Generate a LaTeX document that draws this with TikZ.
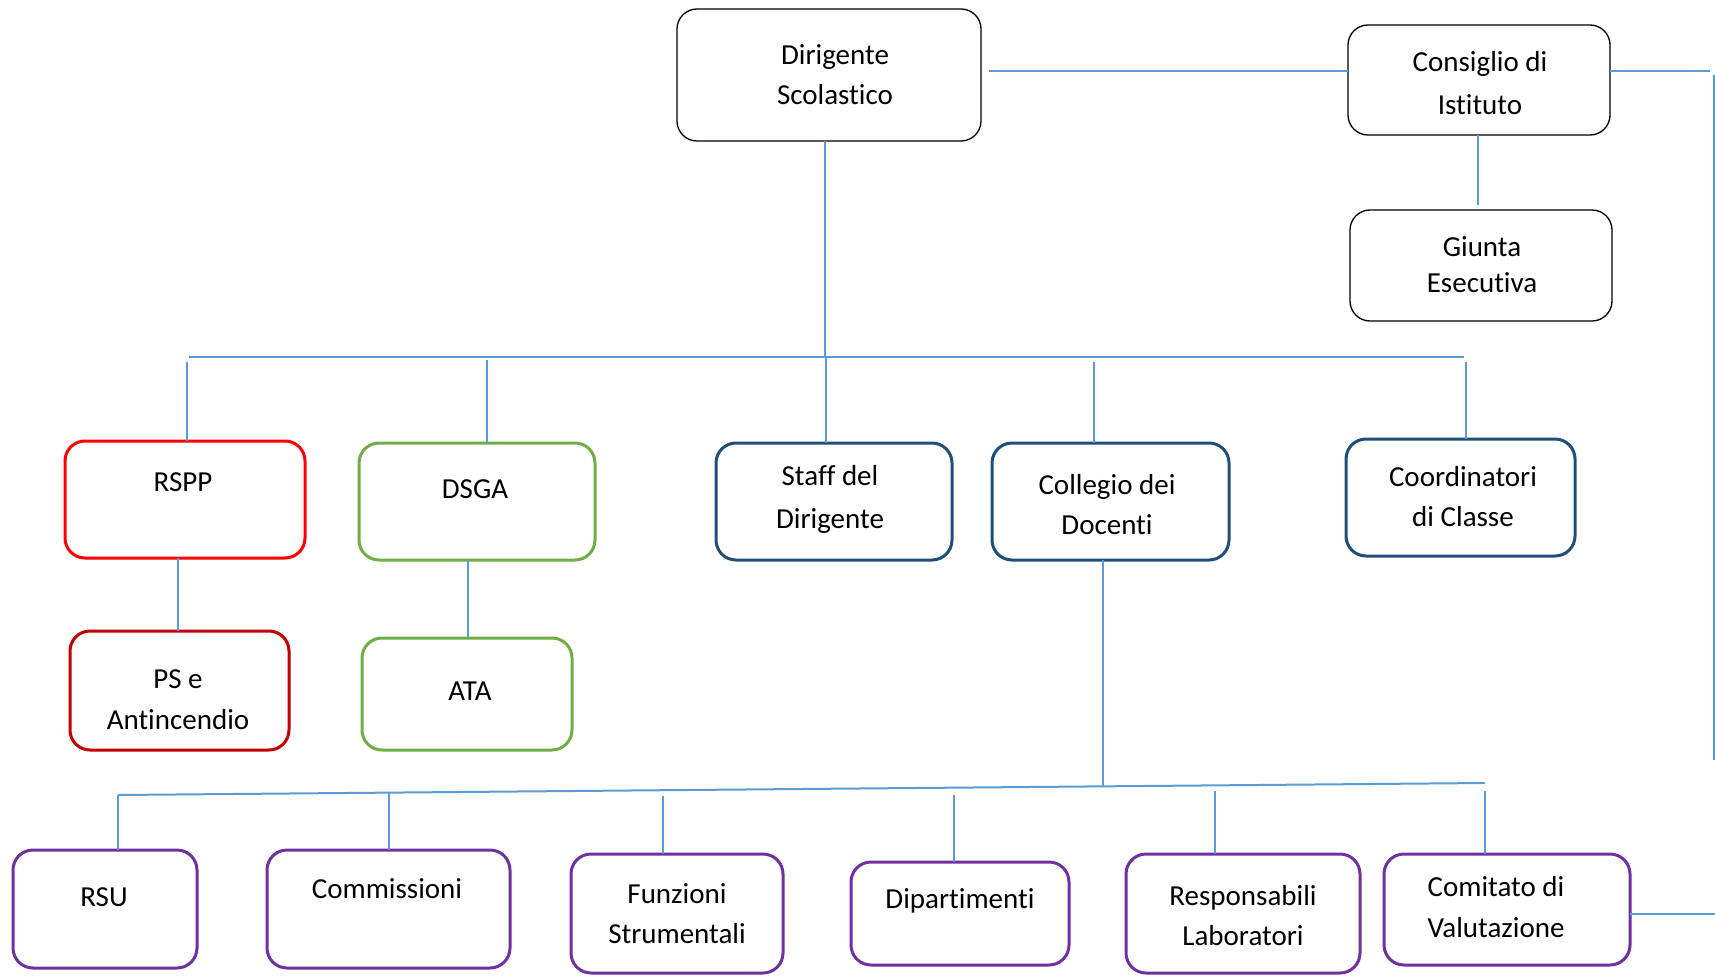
\documentclass[tikz,border=0pt]{standalone}
\usepackage{fontspec}
\setmainfont{Carlito}[Ligatures={NoCommon,NoRequired,NoContextual}]
\definecolor{conncol}{HTML}{5B9BD5}
\definecolor{redA}{HTML}{FF0000}
\definecolor{redB}{HTML}{C00000}
\definecolor{greenA}{HTML}{70AD47}
\definecolor{navyA}{HTML}{1F4E79}
\definecolor{purpA}{HTML}{7030A0}
\tikzset{
  every picture/.style={x=1pt,y=-1pt},
  box/.style={draw,rounded corners=20pt,inner sep=0pt,outer sep=0pt},
  blackbox/.style={box,draw=black,line width=1.3pt},
  redbox/.style={box,draw=redA,line width=3pt},
  darkredbox/.style={box,draw=redB,line width=3pt},
  greenbox/.style={box,draw=greenA,line width=3pt},
  navybox/.style={box,draw=navyA,line width=3pt},
  purpbox/.style={box,draw=purpA,line width=3pt},
  lbl/.style={font=\fontsize{29}{41}\selectfont,align=center,inner sep=0pt},
  conn/.style={draw=conncol,line width=2pt}
}
\begin{document}
\begin{tikzpicture}
\useasboundingbox (0,0) rectangle (1715,976);
% boxes
\node[blackbox,minimum width=304pt,minimum height=132pt] (Dir) at (829,75) {};
\node[blackbox,minimum width=262pt,minimum height=110pt] (Cons) at (1479,80) {};
\node[blackbox,minimum width=262pt,minimum height=111pt] (Giu) at (1481,265.5) {};
\node[redbox,minimum width=240pt,minimum height=117pt] (RSPP) at (185,499.5) {};
\node[greenbox,minimum width=236pt,minimum height=117pt] (DSGA) at (477,501.5) {};
\node[navybox,minimum width=236pt,minimum height=117pt] (Staff) at (834,501.5) {};
\node[navybox,minimum width=237pt,minimum height=117pt] (Coll) at (1110.5,501.5) {};
\node[navybox,minimum width=229pt,minimum height=117pt] (Coord) at (1460.5,497.5) {};
\node[darkredbox,minimum width=219pt,minimum height=119pt] (PS) at (179.5,690.5) {};
\node[greenbox,minimum width=210pt,minimum height=112pt] (ATA) at (467,694) {};
\node[purpbox,minimum width=184pt,minimum height=118pt] (RSU) at (105,909) {};
\node[purpbox,minimum width=243pt,minimum height=118pt] (Comm) at (388.5,909) {};
\node[purpbox,minimum width=212pt,minimum height=119pt] (Funz) at (677,913.5) {};
\node[purpbox,minimum width=218pt,minimum height=103pt] (Dip) at (960,913.5) {};
\node[purpbox,minimum width=234pt,minimum height=119pt] (Resp) at (1243,913.5) {};
\node[purpbox,minimum width=246pt,minimum height=111pt] (Comi) at (1507,909.5) {};
% labels
\node[lbl,font=\fontsize{29}{40}\selectfont] (tDir) at (835,75) {Dirigente\\Scolastico};
\node[lbl,font=\fontsize{29}{43}\selectfont] (tCons) at (1480,83.5) {Consiglio di\\Istituto};
\node[lbl,font=\fontsize{29}{36}\selectfont] (tGiu) at (1482,265) {Giunta\\Esecutiva};
\node[lbl] (tRSPP) at (183,482) {RSPP};
\node[lbl] (tDSGA) at (475,489) {DSGA};
\node[lbl,font=\fontsize{29}{43}\selectfont] (tStaff) at (830,499.5) {Staff del\\Dirigente};
\node[lbl,font=\fontsize{29}{40}\selectfont] (tColl) at (1107,505) {Collegio dei\\Docenti};
\node[lbl,font=\fontsize{29}{40}\selectfont] (tCoord) at (1463,497) {Coordinatori\\di Classe};
\node[lbl] (tPS) at (178,699.5) {PS e\\Antincendio};
\node[lbl] (tATA) at (470,691) {ATA};
\node[lbl] (tRSU) at (104,897) {RSU};
\node[lbl] (tComm) at (387,889) {Commissioni};
\node[lbl,font=\fontsize{29}{40}\selectfont] (tFunz) at (677,914) {Funzioni\\Strumentali};
\node[lbl] (tDip) at (960,901) {Dipartimenti};
\node[lbl,font=\fontsize{29}{40}\selectfont] (tResp) at (1243,916) {Responsabili\\Laboratori};
\node[lbl] (tComi) at (1496,907.5) {Comitato di\\Valutazione};
% connector coordinates
\coordinate (busL) at (189,357);
\coordinate (busR) at (1464,357);
\coordinate (dDir) at (825,357);
\coordinate (dRSPP) at (187,362);
\coordinate (dDSGA) at (487,360);
\coordinate (dStaff) at (826,357);
\coordinate (dColl) at (1094,362);
\coordinate (dCoord) at (1466,362);
\coordinate (b2L) at (118,795);
\coordinate (b2R) at (1485,783);
\coordinate (dColl2) at (1103,786.4);
\coordinate (dRSU) at (118,795);
\coordinate (dComm) at (389,793);
\coordinate (dFunz) at (663,796);
\coordinate (dDip) at (954,795);
\coordinate (dResp) at (1215,791);
\coordinate (dComi) at (1485,791);
\coordinate (gTop) at (1478,205);
\coordinate (dirE) at (989,71);
\coordinate (rTop) at (1710,71);
\coordinate (rVt) at (1714,75);
\coordinate (rVb) at (1714,760);
\coordinate (rBot) at (1715,914);
% connectors
\draw[conn] (dirE) -- (dirE -| Cons.west);
\draw[conn] (Cons.east |- rTop) -- (rTop);
\draw[conn] (rVt) -- (rVb);
\draw[conn] (Comi.east |- rBot) -- (rBot);
\draw[conn] (Cons.south -| gTop) -- (gTop);
\draw[conn] (Dir.south -| dDir) -- (dDir);
\draw[conn] (busL) -- (busR);
\draw[conn] (dRSPP) -- (dRSPP |- RSPP.north);
\draw[conn] (dDSGA) -- (dDSGA |- DSGA.north);
\draw[conn] (dStaff) -- (dStaff |- Staff.north);
\draw[conn] (dColl) -- (dColl |- Coll.north);
\draw[conn] (dCoord) -- (dCoord |- Coord.north);
\draw[conn] (RSPP.south -| PS.north) ++(-2,0) coordinate (psA) -- (psA |- PS.north);
\draw[conn] (DSGA.south -| ATA.north) ++(1,0) coordinate (ataA) -- (ataA |- ATA.north);
\draw[conn] (Coll.south -| dColl2) -- (dColl2);
\draw[conn] (b2L) -- (b2R);
\draw[conn] (dRSU) -- (dRSU |- RSU.north);
\draw[conn] (dComm) -- (dComm |- Comm.north);
\draw[conn] (dFunz) -- (dFunz |- Funz.north);
\draw[conn] (dDip) -- (dDip |- Dip.north);
\draw[conn] (dResp) -- (dResp |- Resp.north);
\draw[conn] (dComi) -- (dComi |- Comi.north);
\end{tikzpicture}
\end{document}
